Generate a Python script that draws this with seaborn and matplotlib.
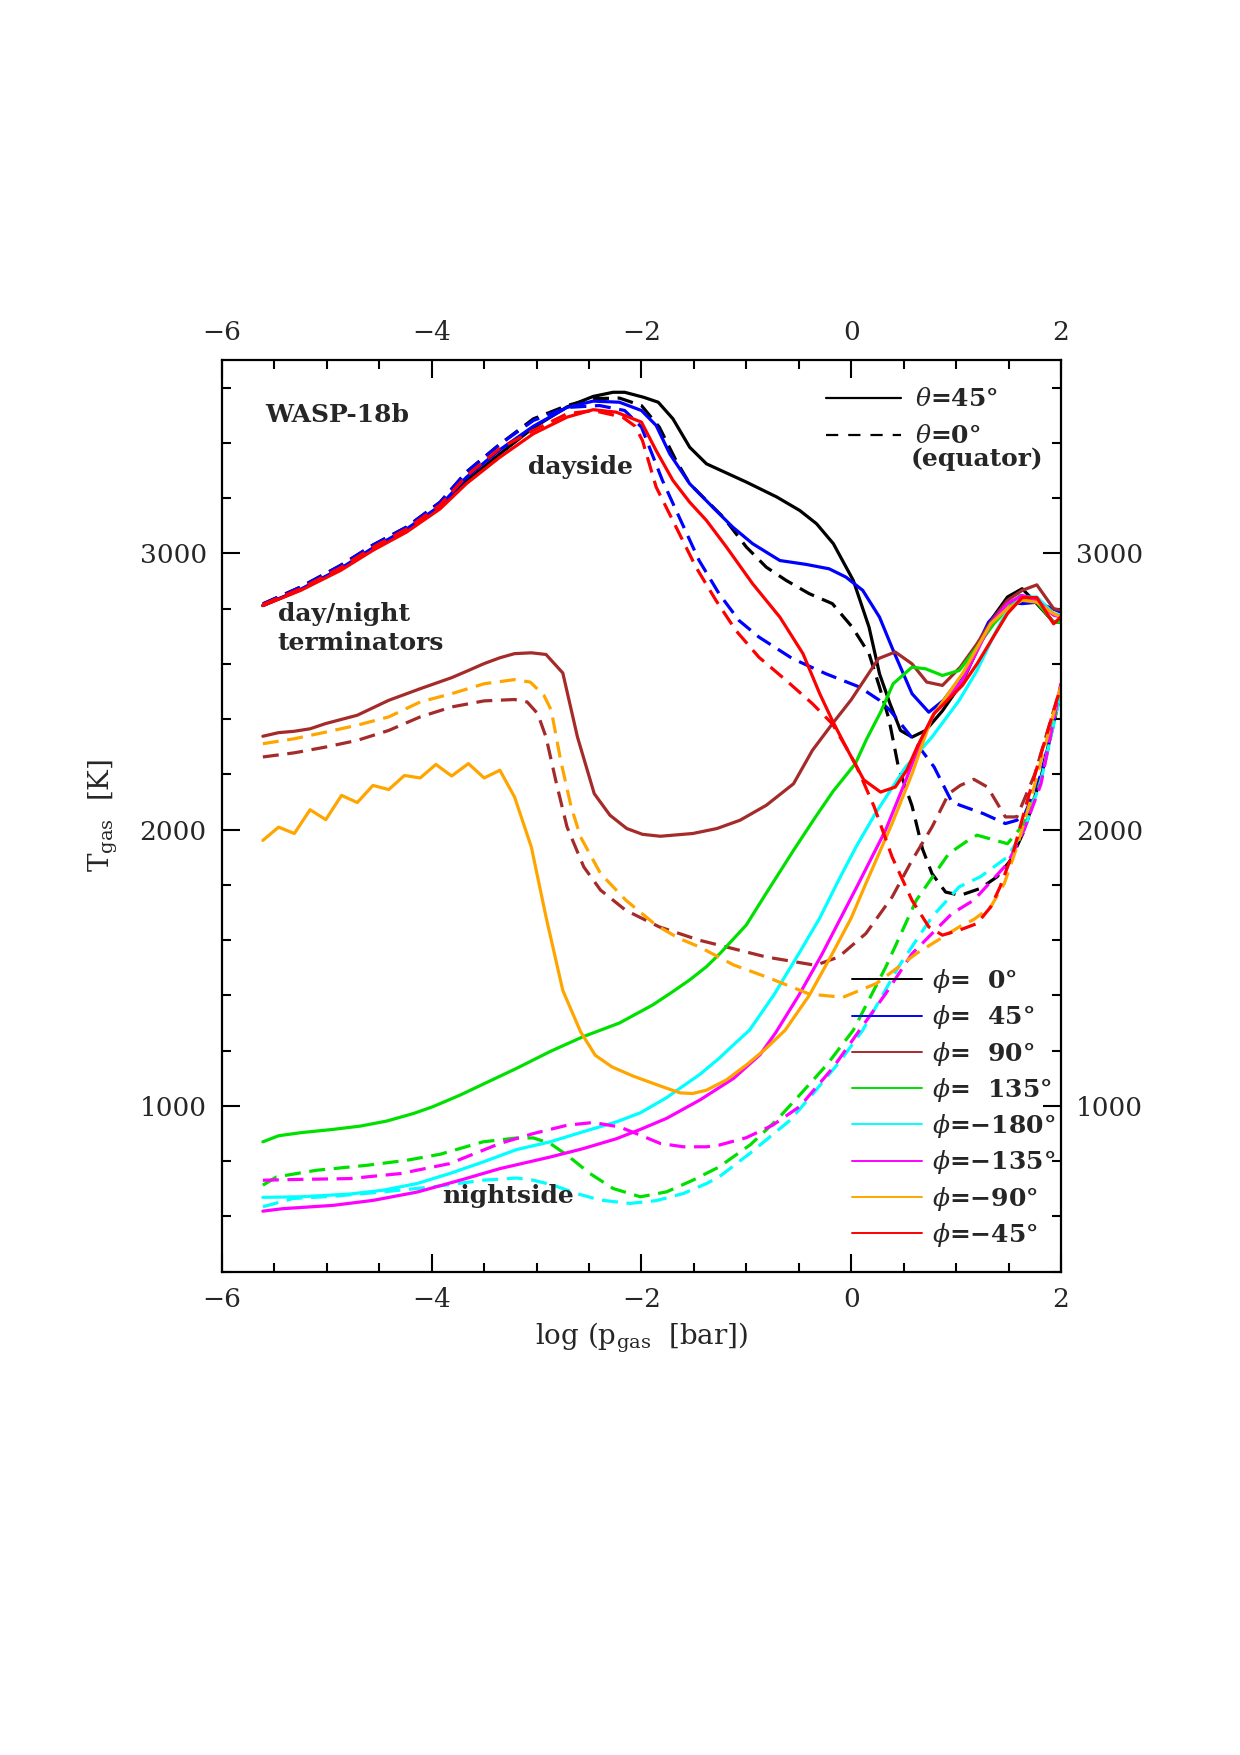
import matplotlib
matplotlib.use("Agg")
import matplotlib.pyplot as plt
from matplotlib.lines import Line2D
from matplotlib.ticker import MultipleLocator
import pandas as pd
import seaborn as sns

# --- theta = 45 deg (solid lines) ---
lp_45_p0 = [-5.61, -5.25, -4.87, -4.56, -4.24, -3.92, -3.67, -3.35, -3.03, -2.71, -2.46, -2.27, -2.16, -1.98,
            -1.84, -1.70, -1.54, -1.38, -1.00, -0.71, -0.49, -0.33, -0.17, 0.02, 0.17, 0.27, 0.37,
            0.47, 0.58, 0.71, 0.87, 1.06, 1.33, 1.49, 1.63, 1.77, 1.93, 2.0]
T_45_p0 = [2811, 2868, 2942, 3017, 3085, 3168, 3262, 3360, 3455, 3530, 3568, 3583, 3583, 3565,
           3547, 3487, 3384, 3324, 3258, 3204, 3155, 3107, 3035, 2902, 2733, 2564, 2456,
           2359, 2335, 2359, 2430, 2534, 2757, 2842, 2872, 2818, 2751, 2751]

lp_45_p45 = [-5.61, -5.25, -4.87, -4.56, -4.24, -3.92, -3.67, -3.35, -3.03, -2.71, -2.46, -2.21, -2.0, -1.86,
             -1.73, -1.54, -1.32, -1.13, -0.94, -0.68, -0.43, -0.21, -0.05, 0.11, 0.27, 0.40, 0.58, 0.74,
             0.88, 1.07, 1.31, 1.49, 1.63, 1.77, 2.0]
T_45_p45 = [2811, 2870, 2945, 3020, 3088, 3172, 3275, 3375, 3460, 3528, 3551, 3547, 3517, 3463,
            3360, 3252, 3167, 3095, 3035, 2974, 2960, 2944, 2914, 2866, 2769, 2649, 2492, 2425,
            2468, 2564, 2751, 2823, 2818, 2823, 2787]

lp_45_p90 = [-5.61, -5.46, -5.31, -5.16, -5.01, -4.71, -4.41, -4.11, -3.81, -3.65, -3.50, -3.35, -3.21, -3.05,
             -2.91, -2.75, -2.61, -2.45, -2.30, -2.14, -1.99, -1.82, -1.51, -1.28, -1.06, -0.81, -0.55, -0.37,
             -0.18, 0.0, 0.26, 0.42, 0.58, 0.72, 0.87, 1.04, 1.20, 1.34, 1.49, 1.63, 1.77, 1.93, 2.0]
T_45_p90 = [2338, 2351, 2356, 2365, 2384, 2414, 2468, 2510, 2550, 2576, 2601, 2622, 2637, 2640,
            2634, 2567, 2335, 2130, 2052, 2004, 1983, 1976, 1986, 2004, 2034, 2088, 2166, 2287,
            2383, 2470, 2619, 2643, 2600, 2534, 2522, 2588, 2673, 2757, 2830, 2866, 2886, 2800, 2794]

lp_45_p135 = [-5.61, -5.46, -5.25, -4.94, -4.68, -4.43, -4.17, -3.99, -3.73, -3.48, -3.19, -2.87, -2.56, -2.21,
              -1.89, -1.70, -1.54, -1.38, -1.25, -1.0, -0.81, -0.55, -0.34, -0.17, 0.04, 0.15, 0.28, 0.40,
              0.58, 0.71, 0.87, 1.03, 1.20, 1.36, 1.49, 1.61, 1.77, 1.93, 2.0]
T_45_p135 = [870, 892, 903, 915, 927, 945, 973, 997, 1039, 1084, 1136, 1197, 1250, 1300,
             1366, 1414, 1456, 1504, 1552, 1655, 1770, 1925, 2046, 2140, 2239, 2330, 2425, 2528,
             2588, 2582, 2558, 2576, 2661, 2745, 2800, 2848, 2823, 2751, 2751]

lp_45_m180 = [-5.61, -5.25, -4.78, -4.46, -4.14, -3.83, -3.51, -3.19, -2.87, -2.56, -2.24, -2.01, -1.76, -1.44,
              -1.26, -1.12, -0.97, -0.74, -0.50, -0.30, -0.12, 0.05, 0.23, 0.52, 0.77, 1.03, 1.20, 1.36,
              1.49, 1.63, 1.77, 1.93, 2.0]
T_45_m180 = [669, 671, 681, 695, 719, 755, 797, 842, 870, 906, 942, 975, 1030, 1115,
             1172, 1222, 1274, 1400, 1551, 1680, 1817, 1940, 2058, 2227, 2335, 2468, 2576, 2703,
             2794, 2842, 2842, 2782, 2775]

lp_45_m135 = [-5.61, -5.42, -4.94, -4.56, -4.14, -3.73, -3.35, -2.87, -2.56, -2.24, -2.01, -1.76, -1.44, -1.12,
              -0.87, -0.72, -0.50, -0.28, -0.10, 0.07, 0.33, 0.52, 0.68, 0.79, 1.06, 1.33, 1.49, 1.63, 1.77,
              1.93, 2.0]
T_45_m135 = [619, 628, 640, 658, 688, 731, 773, 815, 845, 881, 915, 955, 1022, 1100,
             1185, 1265, 1400, 1548, 1680, 1805, 2000, 2178, 2335, 2420, 2540, 2745, 2818, 2848, 2830,
             2776, 2770]

lp_45_m90 = [-5.61, -5.46, -5.31, -5.16, -5.01, -4.86, -4.71, -4.56, -4.41, -4.26, -4.11, -3.96, -3.81, -3.65,
             -3.50, -3.35, -3.21, -3.05, -2.91, -2.75, -2.58, -2.44, -2.28, -2.08, -1.82, -1.63, -1.51, -1.38,
             -1.19, -1.0, -0.82, -0.63, -0.40, -0.18, 0.0, 0.14, 0.39, 0.58, 0.77, 1.06, 1.33, 1.49,
             1.63, 1.77, 1.93, 2.0]
T_45_m90 = [1961, 2009, 1986, 2072, 2036, 2124, 2098, 2160, 2145, 2196, 2187, 2236, 2194, 2239,
            2187, 2215, 2118, 1937, 1684, 1418, 1268, 1183, 1141, 1108, 1072, 1047, 1045, 1057,
            1094, 1148, 1205, 1274, 1400, 1551, 1680, 1805, 2022, 2202, 2408, 2564, 2745, 2800,
            2830, 2823, 2782, 2770]

lp_45_m45 = [-5.61, -5.25, -4.87, -4.56, -4.24, -3.92, -3.67, -3.35, -3.03, -2.71, -2.46, -2.24, -2.0, -1.86,
             -1.70, -1.54, -1.38, -1.19, -0.94, -0.68, -0.46, -0.30, -0.18, -0.05, 0.12, 0.28,
             0.42, 0.53, 0.63, 0.79, 1.06, 1.20, 1.49, 1.63, 1.77, 1.93, 2.0]
T_45_m45 = [2811, 2866, 2938, 3011, 3077, 3161, 3252, 3348, 3433, 3493, 3520, 3511, 3475, 3372,
            3264, 3185, 3119, 3023, 2890, 2769, 2637, 2492, 2395, 2299, 2180, 2136,
            2154, 2215, 2300, 2420, 2522, 2600, 2782, 2840, 2840, 2745, 2770]

# --- theta = 0 deg, equator (dashed lines) ---
lp_0_p0 = [-5.61, -5.25, -4.87, -4.56, -4.24, -3.92, -3.67, -3.35, -3.03, -2.71, -2.46, -2.21, -2.0, -1.83,
           -1.67, -1.54, -1.38, -1.22, -1.0, -0.81, -0.62, -0.40, -0.18, 0.01, 0.17, 0.27, 0.36, 0.45,
           0.58, 0.68, 0.77, 0.90, 1.04, 1.23, 1.39, 1.52, 1.65, 1.81, 2.0]
T_0_p0 = [2817, 2878, 2956, 3030, 3095, 3185, 3294, 3395, 3487, 3535, 3560, 3562, 3535, 3457,
          3336, 3252, 3191, 3131, 3023, 2950, 2902, 2854, 2818, 2733, 2637, 2516, 2400, 2227,
          2086, 1930, 1841, 1774, 1762, 1787, 1829, 1889, 1997, 2190, 2500]

lp_0_p45 = [-5.61, -5.25, -4.87, -4.56, -4.24, -3.92, -3.67, -3.35, -3.03, -2.71, -2.40, -2.16, -2.0, -1.80,
            -1.64, -1.45, -1.26, -1.07, -0.88, -0.56, -0.24, 0.08, 0.27, 0.37,
            0.60, 0.79, 0.96, 1.04, 1.26, 1.47, 1.58, 1.66, 1.81, 2.0]
T_0_p45 = [2817, 2878, 2956, 3030, 3095, 3185, 3294, 3395, 3481, 3528, 3535, 3517, 3457, 3264,
           3131, 2974, 2854, 2757, 2697, 2619, 2564, 2516, 2468, 2432,
           2323, 2227, 2100, 2088, 2058, 2022, 2034, 2060, 2200, 2500]

lp_0_p90 = [-5.61, -5.31, -5.01, -4.71, -4.41, -4.11, -3.81, -3.50, -3.21, -3.09, -2.99, -2.91, -2.81, -2.71,
            -2.55, -2.39, -2.15, -1.83, -1.45, -0.81, -0.34, -0.12, 0.14, 0.39, 0.58,
            0.77, 0.93, 1.04, 1.17, 1.30, 1.47, 1.58, 1.75, 2.0]
T_0_p90 = [2263, 2278, 2299, 2323, 2359, 2408, 2444, 2466, 2471, 2462, 2420, 2335, 2166, 2010,
           1865, 1781, 1708, 1648, 1600, 1539, 1509, 1539, 1624, 1756, 1889,
           2009, 2130, 2160, 2182, 2154, 2046, 2046, 2200, 2520]

lp_0_p135 = [-5.61, -5.48, -5.10, -4.62, -4.24, -3.92, -3.51, -3.19, -3.03, -2.87, -2.71, -2.49, -2.27, -2.01,
             -1.76, -1.51, -1.26, -0.96, -0.71, -0.49, -0.23, 0.02, 0.33, 0.62, 0.93, 1.11, 1.20,
             1.49, 1.65, 1.81, 2.0]
T_0_p135 = [713, 743, 767, 785, 803, 825, 870, 884, 884, 864, 822, 755, 701, 671,
            689, 731, 779, 860, 949, 1040, 1150, 1274, 1503, 1744, 1913, 1960, 1980,
            1949, 2022, 2178, 2500]

lp_0_m180 = [-5.61, -5.32, -4.94, -4.46, -3.99, -3.51, -3.19, -3.03, -2.84, -2.62, -2.39, -2.11, -1.86, -1.60,
             -1.38, -1.26, -0.96, -0.58, -0.36, -0.11, 0.11, 0.45, 0.77, 1.03, 1.23, 1.49, 1.65,
             1.81, 2.0]
T_0_m180 = [635, 665, 673, 689, 707, 731, 739, 731, 713, 683, 659, 647, 657, 683,
            719, 743, 830, 949, 1046, 1160, 1274, 1503, 1684, 1793, 1829, 1901, 2000,
            2178, 2500]

lp_0_m135 = [-5.61, -5.25, -4.78, -4.30, -3.83, -3.35, -3.03, -2.71, -2.46, -2.21, -2.01, -1.82, -1.60, -1.38,
             -1.26, -1.0, -0.75, -0.49, -0.17, 0.08, 0.33, 0.58, 0.96, 1.17, 1.49, 1.65, 1.81, 2.0]
T_0_m135 = [731, 734, 737, 755, 791, 864, 900, 930, 940, 924, 894, 864, 852, 852,
            858, 885, 930, 998, 1140, 1274, 1407, 1551, 1696, 1745, 1877, 2000, 2166, 2530]

lp_0_m90 = [-5.61, -5.31, -5.01, -4.71, -4.41, -4.11, -3.81, -3.50, -3.21, -3.06, -2.93, -2.86, -2.77, -2.67,
            -2.58, -2.39, -2.15, -1.86, -1.64, -1.45, -1.12, -0.81, -0.40, -0.08, 0.24, 0.62,
            1.03, 1.17, 1.33, 1.46, 1.58, 1.71, 2.0]
T_0_m90 = [2311, 2329, 2353, 2378, 2408, 2462, 2492, 2528, 2543, 2534, 2486, 2432, 2250, 2082,
           1973, 1841, 1745, 1654, 1606, 1576, 1510, 1467, 1405, 1393, 1443, 1551,
           1648, 1675, 1720, 1805, 1937, 2106, 2520]

lp_0_m45 = [-5.61, -5.25, -4.87, -4.56, -4.24, -3.92, -3.67, -3.35, -3.03, -2.71, -2.46, -2.18, -2.06, -1.99,
            -1.86, -1.67, -1.48, -1.29, -1.10, -0.88, -0.62, -0.37, -0.18, -0.05, 0.05, 0.22,
            0.39, 0.58, 0.74, 0.87, 1.03, 1.20, 1.33, 1.42, 1.55, 1.68, 2.0]
T_0_m45 = [2815, 2872, 2948, 3022, 3088, 3175, 3280, 3380, 3445, 3505, 3517, 3493, 3460, 3408,
           3240, 3095, 2950, 2830, 2721, 2624, 2540, 2456, 2383, 2299, 2230, 2082,
           1901, 1744, 1648, 1618, 1636, 1660, 1720, 1793, 1925, 2106, 2520]

phi_labels = ["0", "45", "90", "135", "-180", "-135", "-90", "-45"]
phi_colors = ["black", "#0000ff", "#a52a2a", "#00e000", "#00ffff", "#ff00ff", "#ffa500", "#ff0000"]

curves = [
    ("0", "45", lp_45_p0, T_45_p0), ("45", "45", lp_45_p45, T_45_p45),
    ("90", "45", lp_45_p90, T_45_p90), ("135", "45", lp_45_p135, T_45_p135),
    ("-180", "45", lp_45_m180, T_45_m180), ("-135", "45", lp_45_m135, T_45_m135),
    ("-90", "45", lp_45_m90, T_45_m90), ("-45", "45", lp_45_m45, T_45_m45),
    ("0", "0", lp_0_p0, T_0_p0), ("45", "0", lp_0_p45, T_0_p45),
    ("90", "0", lp_0_p90, T_0_p90), ("135", "0", lp_0_p135, T_0_p135),
    ("-180", "0", lp_0_m180, T_0_m180), ("-135", "0", lp_0_m135, T_0_m135),
    ("-90", "0", lp_0_m90, T_0_m90), ("-45", "0", lp_0_m45, T_0_m45),
]

rows = []
for phi, theta, lp, T in curves:
    for a, b in zip(lp, T):
        rows.append((phi, theta, a, b))
df = pd.DataFrame(rows, columns=["phi", "theta", "logp", "T"])

sns.set_theme(style="ticks")
plt.rcParams["font.family"] = ["DejaVu Serif"]
plt.rcParams["mathtext.fontset"] = "dejavuserif"

fig = plt.figure(figsize=(12.4, 17.55), dpi=100)
ax = fig.add_axes([0.179, 0.2754, 0.6766, 0.5195])

sns.lineplot(data=df, x="logp", y="T", hue="phi", style="theta",
             hue_order=phi_labels, palette=dict(zip(phi_labels, phi_colors)),
             style_order=["45", "0"], dashes={"45": "", "0": (5, 2.7)},
             estimator=None, sort=False, linewidth=2.3, legend=False, ax=ax)

ax.set_xlim(-6, 2)
ax.set_ylim(400, 3700)
ax.xaxis.set_major_locator(MultipleLocator(2))
ax.xaxis.set_minor_locator(MultipleLocator(0.5))
ax.yaxis.set_major_locator(MultipleLocator(1000))
ax.yaxis.set_minor_locator(MultipleLocator(200))
ax.tick_params(which="both", direction="in", top=True, right=True,
               labeltop=True, labelright=True, width=1.5, labelsize=19, color="black")
ax.tick_params(which="major", length=13, pad=11)
ax.tick_params(which="minor", length=6.5)
for s in ax.spines.values():
    s.set_linewidth(1.6)
    s.set_color("black")

ax.set_xlabel(r"log (p$_{\mathregular{gas}}$  [bar])", fontsize=20, labelpad=6)
ax.set_ylabel(r"T$_{\mathregular{gas}}$  [K]", fontsize=20, labelpad=14)

ax.text(-5.59, 3499, "WASP-18b", fontsize=18, fontweight="bold", va="center", ha="left")
ax.text(-2.58, 3311, "dayside", fontsize=18, fontweight="bold", va="center", ha="center")
ax.text(-5.47, 2728, "day/night\nterminators", fontsize=18, fontweight="bold",
        va="center", ha="left", linespacing=1.25)
ax.text(-3.27, 673, "nightside", fontsize=18, fontweight="bold", va="center", ha="center")

# theta legend
th_handles = [Line2D([], [], color="black", lw=1.6),
              Line2D([], [], color="black", lw=1.6, dashes=(5.5, 4.5))]
leg1 = ax.legend(th_handles, [r"$\theta$=45°", r"$\theta$=0°"], loc="upper left",
                 bbox_to_anchor=(0.72, 0.970), frameon=False,
                 prop={"size": 18, "weight": "bold"},
                 handlelength=3.0, handletextpad=0.55, labelspacing=0.52,
                 borderpad=0, borderaxespad=0)
ax.add_artist(leg1)
ax.text(0.562, 3340, "(equator)", fontsize=18, fontweight="bold", va="center", ha="left")

# phi legend
phi_text = [r"$\phi$=  0°", r"$\phi$=  45°", r"$\phi$=  90°", r"$\phi$=  135°",
            r"$\phi$=−180°", r"$\phi$=−135°", r"$\phi$=−90°", r"$\phi$=−45°"]
ph_handles = [Line2D([], [], color=c, lw=1.4) for c in phi_colors]
ax.legend(ph_handles, phi_text, loc="upper left", bbox_to_anchor=(0.751, 0.334),
          frameon=False, prop={"size": 18, "weight": "bold"},
          handlelength=2.8, handletextpad=0.4,
          labelspacing=0.33, borderpad=0, borderaxespad=0)

fig.savefig("out.png", dpi=100)
